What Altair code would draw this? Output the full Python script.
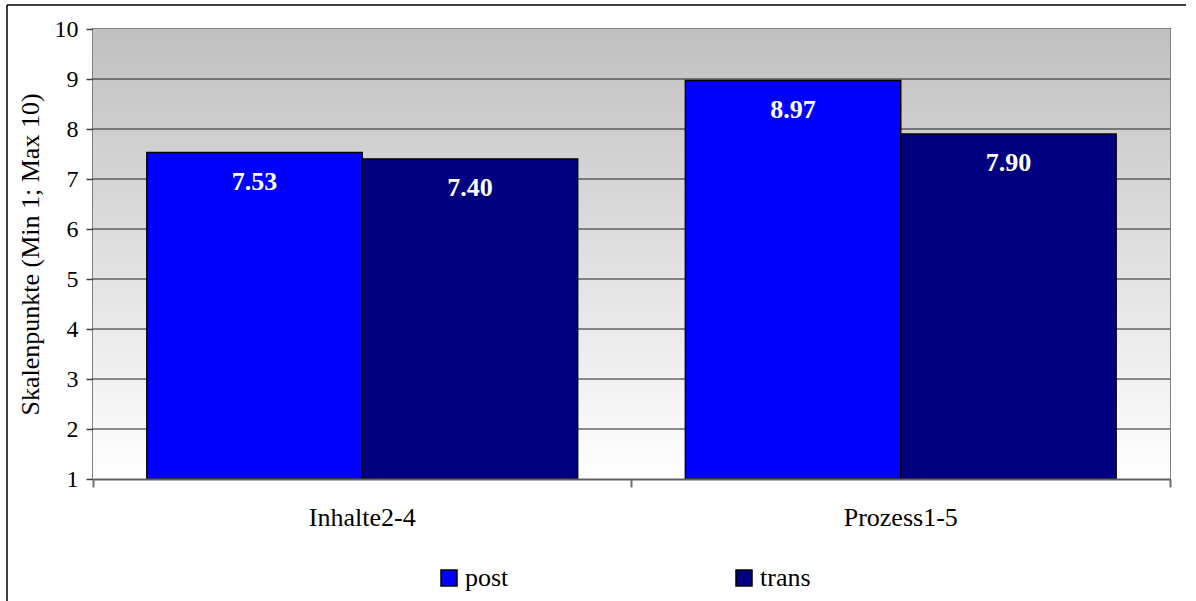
import altair as alt
import pandas as pd

categories = ["Inhalte2-4", "Prozess1-5"]
series = ["post", "trans"]
post_values = [7.53, 8.97]
trans_values = [7.40, 7.90]
colors = ["#0000ff", "#000080"]
y_ticks = list(range(1, 11))
y_title = "Skalenpunkte (Min 1; Max 10)"

rows = []
for i, c in enumerate(categories):
    rows.append({"cat": c, "series": "post", "value": post_values[i]})
    rows.append({"cat": c, "series": "trans", "value": trans_values[i]})
df = pd.DataFrame(rows)
df["label"] = df["value"].map(lambda v: f"{v:.2f}")
grid_df = pd.DataFrame({"value": y_ticks[1:-1]})

FONT = "Liberation Serif"
W, H = 1077, 450

x = alt.X(
    "cat:N",
    title=None,
    sort=categories,
    scale=alt.Scale(paddingInner=0, paddingOuter=0),
    axis=alt.Axis(
        labelAngle=0, bandPosition=1, tickExtra=True, tickSize=8, tickWidth=2,
        tickColor="#707070", domainColor="#606060", domainWidth=2,
        labelFont=FONT, labelFontSize=26, labelColor="black", labelPadding=17,
        grid=False, zindex=1,
    ),
)
xo = alt.XOffset("series:N", sort=series,
                 scale=alt.Scale(paddingOuter=0.25, paddingInner=0))
y_scale = alt.Scale(domain=[1, 10], zero=False, nice=False)
y = alt.Y(
    "value:Q",
    title=y_title,
    scale=y_scale,
    axis=alt.Axis(
        values=y_ticks, format="d", tickSize=7, tickWidth=1.5, tickColor="#404040",
        domain=False, grid=False,
        labelFont=FONT, labelFontSize=24, labelColor="black", labelPadding=8,
        titleFont=FONT, titleFontSize=26, titleFontWeight="normal", titleColor="black",
        titlePadding=11,
    ),
)

frame_df = pd.DataFrame({"a": [0]})
bg = alt.Chart(frame_df).mark_rect(
    color=alt.LinearGradient(
        gradient="linear",
        stops=[alt.GradientStop(color="#c0c0c0", offset=0),
               alt.GradientStop(color="#ffffff", offset=1)],
        x1=0, x2=0, y1=0, y2=1,
    )
).encode(x=alt.value(0), x2=alt.value(W), y=alt.value(0), y2=alt.value(H))

grid = alt.Chart(grid_df).mark_rule(color="#202020", strokeWidth=1).encode(
    y=alt.Y("value:Q", scale=y_scale)
)

bars = alt.Chart(df).mark_bar(stroke="black", strokeWidth=1.5).encode(
    x=x, xOffset=xo, y=y, y2=alt.datum(1),
    color=alt.Color(
        "series:N",
        scale=alt.Scale(domain=series, range=colors),
        legend=alt.Legend(
            title=None, orient="none", legendX=343, legendY=536,
            direction="horizontal", symbolType="square", symbolSize=256,
            symbolStrokeColor="black", symbolStrokeWidth=1.5,
            labelFont=FONT, labelFontSize=26, labelColor="black",
            labelOffset=3, columnPadding=222,
        ),
    ),
)

labels = alt.Chart(df).mark_text(
    font=FONT, fontSize=26, fontWeight="bold", color="white",
    baseline="alphabetic", dy=37,
).encode(x=x, xOffset=xo, y=alt.Y("value:Q"), text="label:N")

frame_left = alt.Chart(frame_df).mark_rule(color="black", strokeWidth=1.5).encode(
    x=alt.value(-86), y=alt.value(-24), y2=alt.value(H + 140)
)
frame_top = alt.Chart(frame_df).mark_rule(color="black", strokeWidth=1.5).encode(
    x=alt.value(-86), x2=alt.value(1093), y=alt.value(-24)
)

chart = alt.layer(bg, grid, bars, labels, frame_left, frame_top).properties(
    width=W, height=H,
    autosize=alt.AutoSizeParams(type="none"),
    padding={"left": 93, "top": 29, "right": 26, "bottom": 122},
    background="white",
).configure_view(
    stroke="#808080", strokeWidth=2,
)

chart.save("out.html", embed_options={"renderer": "svg", "actions": False})
